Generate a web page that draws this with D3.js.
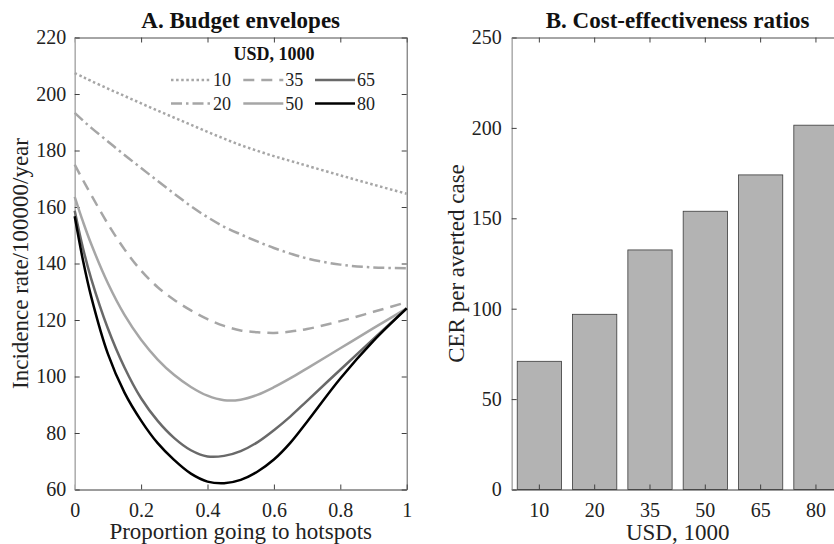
<!DOCTYPE html>
<html>
<head>
<meta charset="utf-8">
<script src="https://cdn.jsdelivr.net/npm/d3@7"></script>
<style>
  html, body { margin: 0; padding: 0; background: #fff; }
  svg { display: block; font-family: "Liberation Serif", "Times New Roman", serif; }
</style>
</head>
<body>
<svg id="chart" width="834" height="544"></svg>
<script>
// ---- Panel A: incidence against the share of budget sent to hotspots ----
const proportion = [0, 0.025, 0.05, 0.1, 0.15, 0.2, 0.25, 0.3, 0.35, 0.4, 0.45, 0.5, 0.55, 0.6, 0.65, 0.7, 0.8, 0.9, 1];
const budgets = ["10", "20", "35", "50", "65", "80"];
const inc10 = [207.4, 206.0, 204.6, 201.9, 199.3, 196.7, 194.1, 191.6, 189.1, 186.6, 184.2, 181.9, 179.9, 178.0, 176.3, 174.6, 171.2, 167.9, 164.7];
const inc20 = [193.3, 190.6, 188.0, 183.2, 178.4, 173.8, 169.2, 164.7, 160.3, 156.4, 153.0, 150.3, 147.8, 145.5, 143.5, 141.8, 139.6, 138.6, 138.3];
const inc35 = [175.0, 169.5, 164.2, 154.0, 145.0, 137.5, 131.6, 127.1, 123.4, 120.3, 117.9, 116.3, 115.7, 115.4, 115.9, 116.8, 119.6, 122.9, 126.3];
const inc50 = [163.6, 154.8, 146.8, 133.0, 121.8, 113.0, 106.0, 100.5, 96.3, 93.2, 91.6, 91.8, 93.5, 96.2, 99.4, 102.9, 110.0, 117.1, 124.1];
const inc65 = [158.7, 145.4, 134.5, 117.0, 103.2, 92.3, 84.3, 78.2, 73.9, 71.7, 71.9, 73.6, 76.7, 81.0, 85.9, 91.4, 102.4, 113.3, 124.1];
const inc80 = [156.7, 141.1, 128.1, 108.0, 94.3, 84.4, 76.4, 70.4, 65.6, 62.8, 62.2, 63.4, 66.3, 70.6, 76.6, 84.0, 99.3, 112.6, 124.1];
const xTicksA = [0, 0.2, 0.4, 0.6, 0.8, 1];
const yTicksA = [60, 80, 100, 120, 140, 160, 180, 200, 220];

// ---- Panel B: cost-effectiveness ratio per budget ----
const cerBudgets = ["10", "20", "35", "50", "65", "80"];
const cerValues = [70.9, 96.9, 132.5, 153.9, 174.0, 201.5];
const yTicksB = [0, 50, 100, 150, 200, 250];

const seriesA = [inc10, inc20, inc35, inc50, inc65, inc80];

// line appearance for each budget envelope
const lineStyle = {
  "10": { color: "#a6a6a6", dash: "2.5 2.6" },
  "20": { color: "#a6a6a6", dash: "11 4 2.5 4" },
  "35": { color: "#a6a6a6", dash: "11 7" },
  "50": { color: "#a6a6a6", dash: null },
  "65": { color: "#696969", dash: null },
  "80": { color: "#000000", dash: null }
};

const svg = d3.select("#chart");
const FONT = '"Liberation Serif", "Times New Roman", serif';
const TICK = 5;
const LABEL_SIZE = 23;

function styleAxis(g, domainColor) {
  g.attr("font-family", FONT).attr("font-size", 20);
  g.selectAll(".domain").attr("stroke", domainColor).attr("stroke-width", 1);
  g.selectAll(".tick line").attr("stroke", "#404040").attr("stroke-width", 1);
  g.selectAll(".tick text").attr("fill", "#222");
}

function drawFrame(box, x, y, xTicks, yTicks, xFmt) {
  const bottom = d3.axisBottom(x).tickSizeInner(-TICK).tickSizeOuter(0).tickPadding(13);
  const top = d3.axisTop(x).tickSizeInner(-TICK).tickSizeOuter(0).tickFormat("");
  if (xTicks) { bottom.tickValues(xTicks); top.tickValues(xTicks); }
  if (xFmt) bottom.tickFormat(xFmt);

  svg.append("g").attr("transform", `translate(0,${box.t})`).call(top).call(g => styleAxis(g, "#4d4d4d"));
  svg.append("g").attr("transform", `translate(${box.r},0)`)
    .call(d3.axisRight(y).tickValues(yTicks).tickSizeInner(-TICK).tickSizeOuter(0).tickFormat(""))
    .call(g => styleAxis(g, "#5a5a5a"));
  svg.append("g").attr("transform", `translate(0,${box.b})`).call(bottom).call(g => styleAxis(g, "#3a3a3a"));
  svg.append("g").attr("transform", `translate(${box.l},0)`)
    .call(d3.axisLeft(y).tickValues(yTicks).tickSizeInner(-TICK).tickSizeOuter(0).tickPadding(box.yPad))
    .call(g => styleAxis(g, "#b0b0b0"))
    .call(g => g.select(".domain").attr("stroke-width", 1.6));
}

// ================= Panel A =================
const boxA = { l: 74.7, r: 406.7, t: 37.5, b: 489.5, yPad: 8.5 };
const xA = d3.scaleLinear().domain([0, 1]).range([boxA.l, boxA.r]);
const yA = d3.scaleLinear().domain([60, 220]).range([boxA.b, boxA.t]);

const lineA = d3.line()
  .x((d, i) => xA(proportion[i]))
  .y(d => yA(d))
  .curve(d3.curveCatmullRom.alpha(0.5));

drawFrame(boxA, xA, yA, xTicksA, yTicksA, d => String(d));

const curves = svg.append("g");
budgets.forEach((b, k) => {
  const st = lineStyle[b];
  curves.append("path")
    .attr("d", lineA(seriesA[k]))
    .attr("fill", "none")
    .attr("stroke", st.color)
    .attr("stroke-width", 2.5)
    .attr("stroke-dasharray", st.dash);
});

// legend, filled column by column
const legend = svg.append("g").attr("font-family", FONT);
legend.append("text")
  .attr("x", 274).attr("y", 60)
  .attr("text-anchor", "middle")
  .attr("font-size", 18).attr("font-weight", "bold")
  .attr("fill", "#111")
  .text("USD, 1000");
const colX = [171, 243.3, 315];
const rowY = [80, 103.5];
budgets.forEach((b, k) => {
  const cx = colX[Math.floor(k / 2)];
  const cy = rowY[k % 2];
  const st = lineStyle[b];
  legend.append("line")
    .attr("x1", cx).attr("x2", cx + 40)
    .attr("y1", cy).attr("y2", cy)
    .attr("stroke", st.color).attr("stroke-width", 2.5)
    .attr("stroke-dasharray", st.dash);
  legend.append("text")
    .attr("x", cx + 42).attr("y", cy + 6.3)
    .attr("font-size", 18).attr("fill", "#222")
    .text(b);
});

svg.append("text")
  .attr("x", (boxA.l + boxA.r) / 2).attr("y", 28)
  .attr("text-anchor", "middle")
  .attr("font-family", FONT).attr("font-size", LABEL_SIZE).attr("font-weight", "bold")
  .attr("fill", "#111")
  .text("A. Budget envelopes");
svg.append("text")
  .attr("x", (boxA.l + boxA.r) / 2).attr("y", 539)
  .attr("text-anchor", "middle")
  .attr("font-family", FONT).attr("font-size", LABEL_SIZE).attr("fill", "#222")
  .text("Proportion going to hotspots");
svg.append("text")
  .attr("transform", `translate(28,${(boxA.t + boxA.b) / 2}) rotate(-90)`)
  .attr("text-anchor", "middle")
  .attr("font-family", FONT).attr("font-size", LABEL_SIZE).attr("fill", "#222")
  .text("Incidence rate/100000/year");

// ================= Panel B =================
const boxB = { l: 511.7, r: 843.6, t: 37.5, b: 489.5, yPad: 10 };
const xB = d3.scaleBand().domain(cerBudgets).range([boxB.l, boxB.r]).paddingInner(0.2).paddingOuter(0.1);
const yB = d3.scaleLinear().domain([0, 250]).range([boxB.b, boxB.t]);

svg.append("g").selectAll("rect")
  .data(cerValues)
  .join("rect")
  .attr("x", (d, i) => xB(cerBudgets[i]))
  .attr("width", xB.bandwidth())
  .attr("y", d => yB(d))
  .attr("height", d => yB(0) - yB(d))
  .attr("fill", "#b3b3b3")
  .attr("stroke", "#3a3a3a")
  .attr("stroke-width", 0.8);

drawFrame(boxB, xB, yB, null, yTicksB, null);

svg.append("text")
  .attr("x", (boxB.l + boxB.r) / 2).attr("y", 28)
  .attr("text-anchor", "middle")
  .attr("font-family", FONT).attr("font-size", LABEL_SIZE).attr("font-weight", "bold")
  .attr("fill", "#111")
  .text("B. Cost-effectiveness ratios");
svg.append("text")
  .attr("x", (boxB.l + boxB.r) / 2).attr("y", 540)
  .attr("text-anchor", "middle")
  .attr("font-family", FONT).attr("font-size", LABEL_SIZE).attr("fill", "#222")
  .text("USD, 1000");
svg.append("text")
  .attr("transform", `translate(464,${(boxB.t + boxB.b) / 2}) rotate(-90)`)
  .attr("text-anchor", "middle")
  .attr("font-family", FONT).attr("font-size", LABEL_SIZE).attr("fill", "#222")
  .text("CER per averted case");
</script>
</body>
</html>
